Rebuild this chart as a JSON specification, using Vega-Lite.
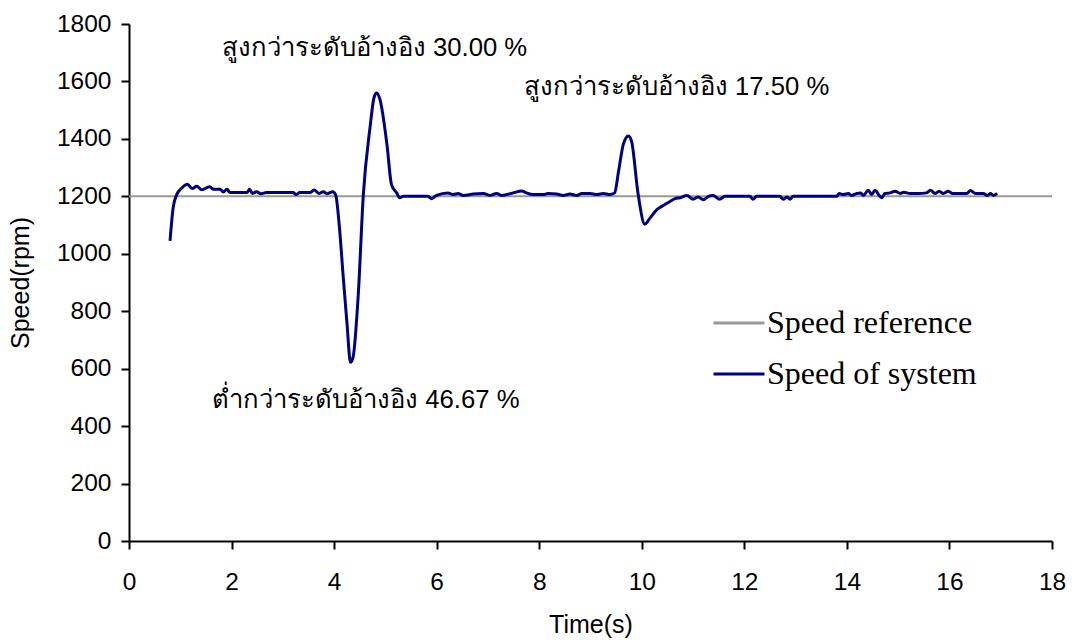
{
  "$schema": "https://vega.github.io/schema/vega-lite/v6.json",
  "width": 923,
  "height": 517,
  "autosize": "none",
  "padding": {"left": 129, "top": 24, "right": 21, "bottom": 100},
  "background": "white",
  "config": {
    "view": {"stroke": null},
    "font": "Liberation Sans",
    "axis": {
      "grid": false,
      "domainColor": "black",
      "domainWidth": 2,
      "tickColor": "black",
      "tickWidth": 2,
      "tickSize": 8,
      "labelFont": "Liberation Sans",
      "labelFontSize": 24.5,
      "labelColor": "black",
      "titleFont": "Liberation Sans",
      "titleFontSize": 25,
      "titleFontWeight": "normal",
      "titleColor": "black"
    }
  },
  "datasets": {
    "system": [
      {"t":0.80,"v":1045},{"t":0.86,"v":1159},{"t":0.93,"v":1206},{"t":1.03,"v":1229},{"t":1.14,"v":1242},
      {"t":1.23,"v":1227},{"t":1.32,"v":1235},{"t":1.42,"v":1223},{"t":1.57,"v":1233},{"t":1.65,"v":1225},
      {"t":1.78,"v":1225},{"t":1.84,"v":1215},{"t":1.91,"v":1225},{"t":1.97,"v":1213},{"t":2.30,"v":1213},
      {"t":2.35,"v":1225},{"t":2.41,"v":1210},{"t":2.49,"v":1216},{"t":2.57,"v":1209},{"t":2.68,"v":1213},
      {"t":3.20,"v":1213},{"t":3.26,"v":1206},{"t":3.33,"v":1213},{"t":3.53,"v":1213},{"t":3.61,"v":1222},
      {"t":3.71,"v":1210},{"t":3.79,"v":1216},{"t":3.86,"v":1209},{"t":3.92,"v":1213},{"t":3.97,"v":1216},
      {"t":4.03,"v":1205},{"t":4.10,"v":1100},{"t":4.18,"v":914},{"t":4.25,"v":760},{"t":4.32,"v":622},
      {"t":4.37,"v":640},{"t":4.47,"v":855},{"t":4.57,"v":1206},{"t":4.70,"v":1439},{"t":4.78,"v":1545},
      {"t":4.83,"v":1560},{"t":4.89,"v":1540},{"t":5.03,"v":1381},{"t":5.12,"v":1240},{"t":5.22,"v":1212},
      {"t":5.28,"v":1195},{"t":5.35,"v":1200},{"t":5.83,"v":1200},{"t":5.90,"v":1192},{"t":6.00,"v":1203},
      {"t":6.22,"v":1212},{"t":6.32,"v":1206},{"t":6.42,"v":1210},{"t":6.52,"v":1203},{"t":6.71,"v":1208},
      {"t":6.91,"v":1210},{"t":7.04,"v":1203},{"t":7.17,"v":1210},{"t":7.27,"v":1203},{"t":7.49,"v":1212},
      {"t":7.66,"v":1219},{"t":7.75,"v":1212},{"t":7.88,"v":1206},{"t":8.08,"v":1206},{"t":8.17,"v":1210},
      {"t":8.34,"v":1208},{"t":8.47,"v":1203},{"t":8.60,"v":1208},{"t":8.73,"v":1203},{"t":8.83,"v":1210},
      {"t":8.99,"v":1210},{"t":9.12,"v":1206},{"t":9.25,"v":1210},{"t":9.38,"v":1206},{"t":9.47,"v":1212},
      {"t":9.55,"v":1290},{"t":9.64,"v":1381},{"t":9.74,"v":1410},{"t":9.80,"v":1392},{"t":9.93,"v":1206},
      {"t":10.06,"v":1103},{"t":10.16,"v":1124},{"t":10.29,"v":1153},{"t":10.39,"v":1165},{"t":10.55,"v":1182},
      {"t":10.65,"v":1192},{"t":10.75,"v":1195},{"t":10.88,"v":1203},{"t":11.00,"v":1190},{"t":11.10,"v":1198},
      {"t":11.20,"v":1188},{"t":11.30,"v":1200},{"t":11.39,"v":1203},{"t":11.52,"v":1190},{"t":11.62,"v":1200},
      {"t":12.11,"v":1200},{"t":12.17,"v":1190},{"t":12.24,"v":1200},{"t":12.69,"v":1200},{"t":12.76,"v":1190},
      {"t":12.83,"v":1198},{"t":12.89,"v":1190},{"t":12.95,"v":1200},{"t":13.80,"v":1200},{"t":13.85,"v":1210},
      {"t":13.93,"v":1206},{"t":14.03,"v":1210},{"t":14.09,"v":1203},{"t":14.19,"v":1210},{"t":14.27,"v":1212},
      {"t":14.32,"v":1203},{"t":14.42,"v":1221},{"t":14.48,"v":1206},{"t":14.55,"v":1221},{"t":14.63,"v":1203},
      {"t":14.68,"v":1195},{"t":14.74,"v":1210},{"t":14.84,"v":1212},{"t":14.94,"v":1218},{"t":15.04,"v":1210},
      {"t":15.11,"v":1214},{"t":15.23,"v":1210},{"t":15.39,"v":1210},{"t":15.55,"v":1212},{"t":15.63,"v":1221},
      {"t":15.72,"v":1210},{"t":15.80,"v":1218},{"t":15.88,"v":1210},{"t":15.98,"v":1218},{"t":16.06,"v":1210},
      {"t":16.34,"v":1210},{"t":16.41,"v":1220},{"t":16.51,"v":1210},{"t":16.66,"v":1210},{"t":16.74,"v":1203},
      {"t":16.80,"v":1210},{"t":16.86,"v":1203},{"t":16.93,"v":1210}
    ],
    "reference": [
      {"t":0,"v":1200},{"t":18,"v":1200}
    ],
    "notes": [
      {"t":1.81,"v":1716,"label":"สูงกว่าระดับอ้างอิง 30.00 %"},
      {"t":7.70,"v":1581,"label":"สูงกว่าระดับอ้างอิง 17.50 %"},
      {"t":1.62,"v":491,"label":"ต่ำกว่าระดับอ้างอิง 46.67 %"}
    ]
  },
  "layer": [
    {
      "data": {"name": "reference"},
      "transform": [{"calculate": "'Speed reference'", "as": "series"}],
      "mark": {"type": "line", "strokeWidth": 2},
      "encoding": {
        "x": {"field": "t", "type": "quantitative",
              "scale": {"domain": [0, 18], "nice": false},
              "axis": {"title": "Time(s)", "values": [0,2,4,6,8,10,12,14,16,18], "labelPadding": 21, "titlePadding": 19, "labelFlush": false}},
        "y": {"field": "v", "type": "quantitative",
              "scale": {"domain": [0, 1800], "nice": false},
              "axis": {"title": "Speed(rpm)", "format": "d", "values": [0,200,400,600,800,1000,1200,1400,1600,1800], "labelPadding": 10, "titlePadding": 23}},
        "color": {"field": "series", "type": "nominal",
                  "scale": {"domain": ["Speed reference", "Speed of system"], "range": ["#999999", "#000080"]},
                  "legend": {"title": null, "orient": "none", "legendX": 583, "legendY": 272,
                             "symbolType": "stroke", "symbolSize": 2600, "symbolStrokeWidth": 3,
                             "labelFont": "Liberation Serif", "labelFontSize": 32, "labelColor": "black",
                             "labelLimit": 400, "labelOffset": 1, "rowPadding": 8}}
      }
    },
    {
      "data": {"name": "system"},
      "transform": [{"calculate": "'Speed of system'", "as": "series"}],
      "mark": {"type": "line", "strokeWidth": 3, "interpolate": "monotone"},
      "encoding": {
        "x": {"field": "t", "type": "quantitative"},
        "y": {"field": "v", "type": "quantitative"},
        "color": {"field": "series", "type": "nominal"}
      }
    },
    {
      "mark": {"type": "rule", "color": "black", "strokeWidth": 2},
      "encoding": {"x": {"datum": 18}}
    },
    {
      "data": {"name": "notes"},
      "mark": {"type": "text", "align": "left", "baseline": "middle", "fontSize": 25.7, "font": "Liberation Sans", "color": "black"},
      "encoding": {
        "x": {"field": "t", "type": "quantitative"},
        "y": {"field": "v", "type": "quantitative"},
        "text": {"field": "label"}
      }
    }
  ]
}
